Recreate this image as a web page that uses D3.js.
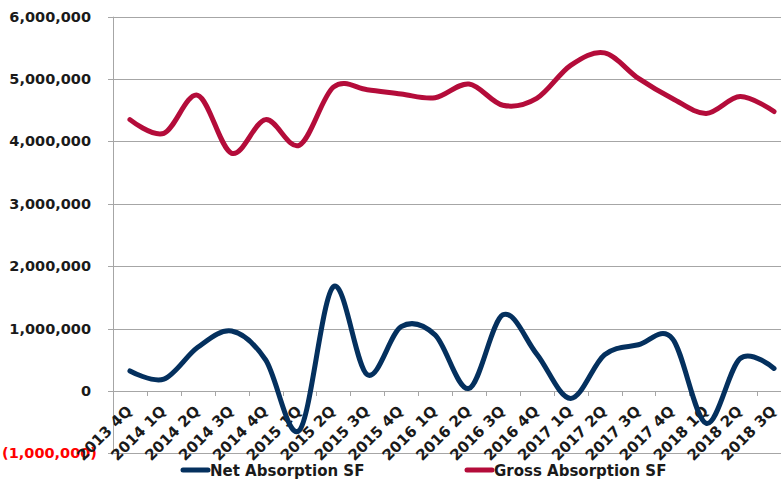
<!DOCTYPE html>
<html>
<head>
<meta charset="utf-8">
<script src="https://cdn.jsdelivr.net/npm/d3@7"></script>
<style>
  html, body { margin: 0; padding: 0; background: #fff; }
  svg { display: block; font-family: "DejaVu Sans", sans-serif; font-weight: bold; }
</style>
</head>
<body>
<svg id="chart" width="781" height="487"></svg>
<script>
// Quarterly absorption, square feet
const quarters = ["2013 4Q","2014 1Q","2014 2Q","2014 3Q","2014 4Q","2015 1Q","2015 2Q","2015 3Q","2015 4Q","2016 1Q",
                  "2016 2Q","2016 3Q","2016 4Q","2017 1Q","2017 2Q","2017 3Q","2017 4Q","2018 1Q","2018 2Q","2018 3Q"];
const netAbsorption = [320000, 190000, 700000, 960000, 500000, -630000, 1670000, 260000, 1030000, 900000,
                       40000, 1220000, 590000, -120000, 580000, 740000, 840000, -520000, 520000, 360000];
const grossAbsorption = [4350000, 4130000, 4740000, 3810000, 4350000, 3940000, 4870000, 4830000, 4760000, 4700000,
                         4920000, 4580000, 4690000, 5220000, 5420000, 5010000, 4690000, 4450000, 4720000, 4480000];
const yTicks = [-1000000, 0, 1000000, 2000000, 3000000, 4000000, 5000000, 6000000];
const seriesNames = ["Net Absorption SF", "Gross Absorption SF"];
const seriesColors = ["#04305E", "#B40C3A"];

const svg = d3.select("#chart");
const x = d3.scaleBand().domain(quarters).range([113, 791]).padding(0);
const y = d3.scaleLinear().domain([-1000000, 6000000]).range([453.3, 16.7]);

const fmt = v => v < 0 ? "(" + d3.format(",")(-v) + ")" : d3.format(",")(v);

// horizontal gridlines
svg.append("g").selectAll("line").data(yTicks).join("line")
  .attr("x1", 108).attr("x2", 781)
  .attr("y1", d => Math.round(y(d)) + 0.5).attr("y2", d => Math.round(y(d)) + 0.5)
  .attr("stroke", "#A6A6A6").attr("stroke-width", 1);

// vertical axis line
svg.append("line")
  .attr("x1", 113.5).attr("x2", 113.5)
  .attr("y1", y(6000000)).attr("y2", y(-1000000))
  .attr("stroke", "#A6A6A6");

// category tick marks below the zero line
const boundaries = quarters.map(q => x(q)).concat([x.range()[1]]);
svg.append("g").selectAll("line").data(boundaries).join("line")
  .attr("x1", d => Math.round(d) + 0.5).attr("x2", d => Math.round(d) + 0.5)
  .attr("y1", Math.round(y(0))).attr("y2", Math.round(y(0)) + 5)
  .attr("stroke", "#A6A6A6");

// y labels (negative values in red with parentheses)
svg.append("g").selectAll("text").data(yTicks).join("text")
  .attr("x", d => d < 0 ? 97 : 91).attr("y", d => y(d) + 5)
  .attr("text-anchor", "end")
  .attr("font-size", 14.5)
  .attr("fill", d => d < 0 ? "#FF0000" : "#1a1a1a")
  .text(fmt);

// x labels, rotated
svg.append("g").selectAll("text").data(quarters).join("text")
  .attr("transform", d => `translate(${x(d) + x.bandwidth() / 2 + 3},${y(0) + 21}) rotate(-45)`)
  .attr("text-anchor", "end")
  .attr("font-size", 15)
  .attr("fill", "#1a1a1a")
  .text(d => d);

// smoothed lines
const line = d3.line()
  .x((d, i) => x(quarters[i]) + x.bandwidth() / 2)
  .y(d => y(d))
  .curve(d3.curveCatmullRom.alpha(0));

[netAbsorption, grossAbsorption].forEach((vals, k) => {
  svg.append("path").datum(vals)
    .attr("d", line)
    .attr("fill", "none")
    .attr("stroke", seriesColors[k])
    .attr("stroke-width", 5)
    .attr("stroke-linecap", "round")
    .attr("stroke-linejoin", "round");
});

// legend
const legendX = [183, 467];
const legend = svg.append("g").selectAll("g").data(seriesNames).join("g")
  .attr("transform", (d, i) => `translate(${legendX[i]},470)`);
legend.append("line")
  .attr("x1", 0).attr("x2", 25).attr("y1", 0).attr("y2", 0)
  .attr("stroke", (d, i) => seriesColors[i]).attr("stroke-width", 5).attr("stroke-linecap", "round");
legend.append("text")
  .attr("x", 27).attr("y", 5.5)
  .attr("font-size", 15)
  .attr("fill", "#1a1a1a")
  .text(d => d);
</script>
</body>
</html>
